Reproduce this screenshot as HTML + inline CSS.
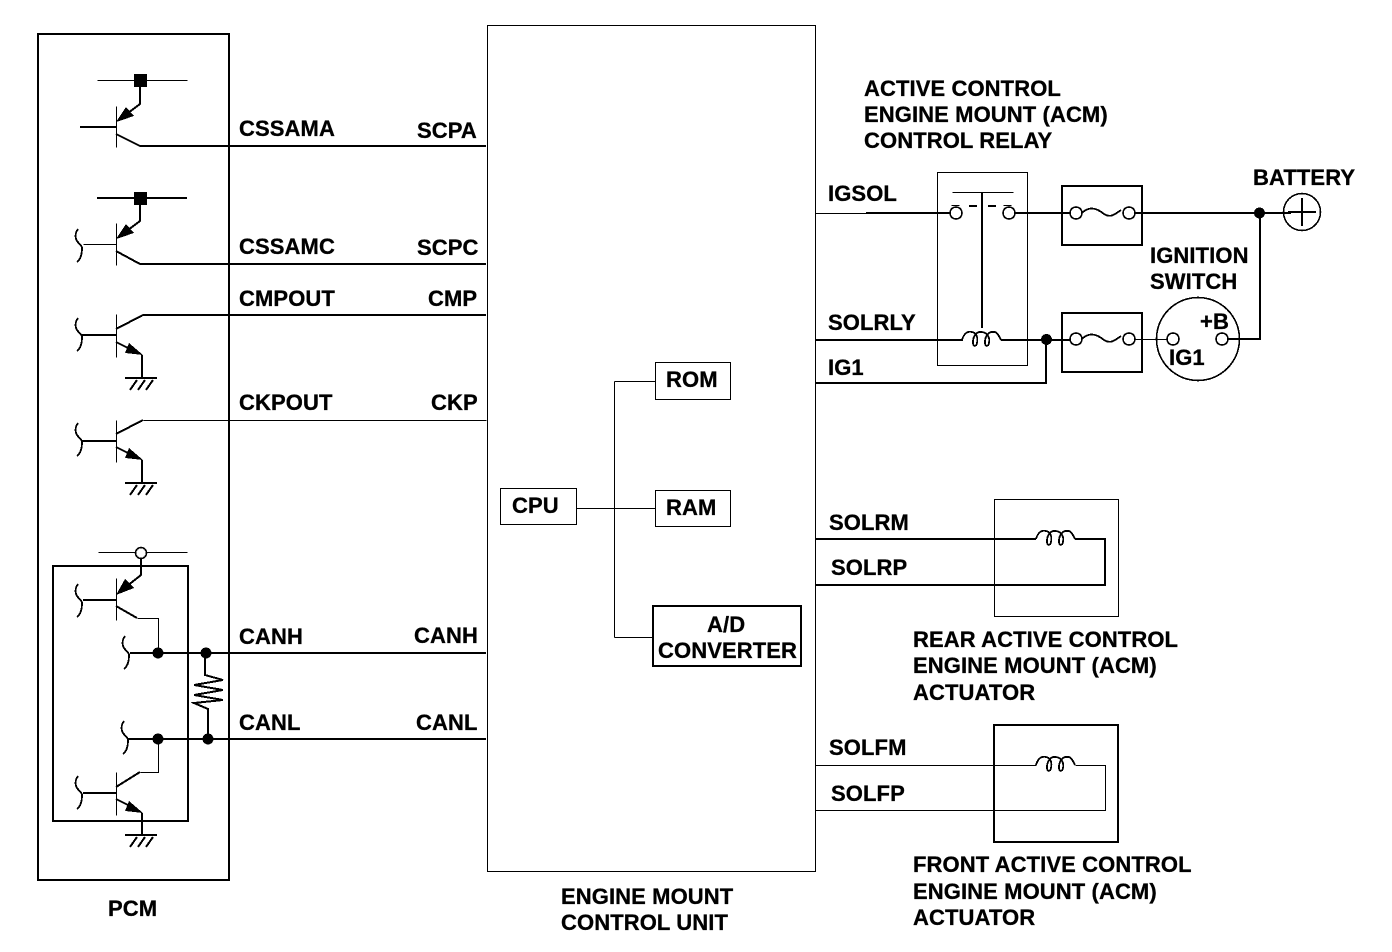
<!DOCTYPE html>
<html><head><meta charset="utf-8"><style>
html,body{margin:0;padding:0;background:#fff}
svg{display:block}
svg *{shape-rendering:crispEdges}
text{font-family:"Liberation Sans",sans-serif;font-weight:bold;font-size:22px;fill:#000;stroke:#000;stroke-width:.3px;letter-spacing:.1px}
.l{fill:none;stroke:#000;stroke-width:2}
.t{fill:none;stroke:#000;stroke-width:1;transform:translate(.5px,.5px)}
</style></head><body>
<svg width="1392" height="952" viewBox="0 0 1392 952" xmlns="http://www.w3.org/2000/svg">
<defs>
<g id="gnd"><path d="M-17 0H15M-5 2L-12 12M3 2L-4 12M11 2L4 12" fill="none" stroke="#000" stroke-width="2"/></g>
<path id="curlyb" d="M2 0C-1 4 -1 9 1 12C3 15 6 16 6 19C6 25 5 30 1 33" fill="none" stroke="#000" stroke-width="1.8"/>
<path id="coil" d="M0 0C2 -7 6 -9 10 -8C15 -7 16 -2 15 3C14 7 11 7 11 2C11 -4 15 -9 20 -8C26 -7 28 -2 27 3C26 7 23 7 23 2C23 -4 27 -9 32 -8C36 -8 37 -3 39 0" fill="none" stroke="#000" stroke-width="1.8"/>
<path id="fuse" d="M0 0C8 -8 16 -4 22 1C28 5 32 2 39 -3" fill="none" stroke="#000" stroke-width="1.8"/>
</defs>

<!-- main boxes -->
<rect class="l" x="38" y="34" width="191" height="846"/>
<rect class="t" x="487" y="25" width="328" height="846"/>
<rect class="l" x="53" y="566" width="135" height="255"/>

<!-- transistor 1 -->
<path class="t" d="M97 80H187"/>
<rect x="134" y="74" width="13" height="13"/>
<path class="l" d="M140 87V104L120 119"/>
<path d="M116 122L126 107L134 116Z"/>
<path class="t" d="M116 106V147"/>
<path class="l" d="M80 127H116M116 134L140 146H486"/>
<!-- transistor 2 -->
<path class="l" d="M97 198H187"/>
<rect x="134" y="192" width="13" height="13"/>
<path class="l" d="M140 205V221L120 236"/>
<path d="M116 239L126 224L134 233Z"/>
<path class="t" d="M116 223V265M83 244H116"/>
<use href="#curlyb" x="76" y="229"/>
<path class="l" d="M116 251L140 264H486"/>
<!-- transistor 3 -->
<path class="t" d="M116 314V357"/>
<path class="l" d="M81 335H116M116 329L143 315H486M116 342L130 349M142 355V378"/>
<path d="M143 355L125 353L129 343Z"/>
<use href="#curlyb" x="76" y="318"/>
<use href="#gnd" x="142" y="378"/>
<!-- transistor 4 -->
<path class="t" d="M116 420V462"/>
<path class="l" d="M81 441H116M116 434L143 420M116 447L130 454M142 460V483"/>
<path class="t" d="M143 420H486"/>
<path d="M143 460L125 458L129 448Z"/>
<use href="#curlyb" x="76" y="423"/>
<use href="#gnd" x="142" y="483"/>
<!-- CAN transistors -->
<path class="t" d="M98 552H187"/>
<circle cx="141" cy="553" r="5.500" fill="#fff" stroke="#000" stroke-width="1.600"/>
<path class="l" d="M141 558V575L122 590"/>
<path d="M116 595L125 579L134 588Z"/>
<path class="t" d="M116 578V620"/>
<path class="l" d="M83 600H116M116 606L137 618"/>
<path class="t" d="M137 618H158V653"/>
<use href="#curlyb" x="76" y="584"/>
<use href="#curlyb" x="123" y="636"/>
<path class="l" d="M130 653H486M128 739H486"/>
<circle cx="158" cy="653" r="5.500"/><circle cx="206" cy="653" r="5.500"/>
<circle cx="158" cy="739" r="5.500"/><circle cx="208" cy="739" r="5.500"/>
<use href="#curlyb" x="122" y="721"/>
<path class="l" d="M205 653V675L223 680L194 685L223 690L194 695L223 700L194 703L208 709V739"/>
<path class="t" d="M158 739V772H140"/>
<path class="l" d="M140 772L116 787"/>
<path class="t" d="M116 772V815"/>
<path class="l" d="M83 793H116M116 799L130 806M142 813V835"/>
<path d="M143 813L125 811L129 801Z"/>
<use href="#curlyb" x="76" y="776"/>
<use href="#gnd" x="142" y="835"/>

<!-- inner boxes -->
<rect class="t" x="500" y="488" width="76" height="36"/>
<rect class="t" x="655" y="362" width="75" height="37"/>
<rect class="t" x="655" y="490" width="75" height="36"/>
<rect class="l" x="653" y="606" width="148" height="60"/>
<path class="t" d="M576 508H655M614 381V637M614 381H655M614 637H653"/>

<!-- relay -->
<rect class="t" x="937" y="172" width="90" height="193"/>
<path class="t" d="M815 213H866M952 192H1013"/>
<path class="l" d="M866 213H950M1015 213H1070M1135 213H1291M982 192V328M1260 213V339H1228"/>
<path class="t" d="M951 205H959M1003 205H1011"/>
<path class="l" d="M969 206H977M988 206H996"/>
<circle cx="956" cy="213" r="6" fill="#fff" stroke="#000" stroke-width="1.600"/>
<circle cx="1009" cy="213" r="6" fill="#fff" stroke="#000" stroke-width="1.600"/>
<rect class="l" x="1062" y="186" width="80" height="59"/>
<rect class="l" x="1062" y="313" width="80" height="59"/>
<use href="#fuse" x="1082" y="213"/>
<use href="#fuse" x="1082" y="339"/>
<circle cx="1076" cy="213" r="6" fill="#fff" stroke="#000" stroke-width="1.600"/>
<circle cx="1129" cy="213" r="6" fill="#fff" stroke="#000" stroke-width="1.600"/>
<circle cx="1076" cy="339" r="6" fill="#fff" stroke="#000" stroke-width="1.600"/>
<circle cx="1129" cy="339" r="6" fill="#fff" stroke="#000" stroke-width="1.600"/>
<circle cx="1259.500" cy="213" r="5.500"/>
<circle cx="1302" cy="212" r="18.500" fill="none" stroke="#000" stroke-width="1.600"/>
<path class="l" d="M1288 212H1316M1302 198V226"/>
<path class="l" d="M815 340H963M1001 340H1070M815 383H1046V340"/>
<use href="#coil" x="962" y="340"/>
<circle cx="1046.500" cy="339.500" r="5.500"/>
<path class="t" d="M1135 339H1167"/>
<circle cx="1198" cy="339" r="41.500" fill="none" stroke="#000" stroke-width="1.600"/>
<circle cx="1173" cy="339" r="6" fill="#fff" stroke="#000" stroke-width="1.600"/>
<circle cx="1222" cy="339" r="6" fill="#fff" stroke="#000" stroke-width="1.600"/>

<!-- rear actuator -->
<rect class="t" x="994" y="499" width="124" height="117"/>
<path class="l" d="M815 539H1036M1075 539H1105V585H815"/>
<use href="#coil" x="1036" y="539"/>
<!-- front actuator -->
<rect class="l" x="994" y="725" width="124" height="117"/>
<path class="t" d="M815 765H1036M1075 765H1105V810H815"/>
<use href="#coil" x="1036" y="765"/>

<!-- labels -->
<text x="239" y="136">CSSAMA</text>
<text x="417" y="138">SCPA</text>
<text x="239" y="254">CSSAMC</text>
<text x="417" y="255">SCPC</text>
<text x="239" y="306">CMPOUT</text>
<text x="428" y="306">CMP</text>
<text x="239" y="410">CKPOUT</text>
<text x="431" y="410">CKP</text>
<text x="239" y="644">CANH</text>
<text x="414" y="643">CANH</text>
<text x="239" y="730">CANL</text>
<text x="416" y="730">CANL</text>
<text x="108" y="916">PCM</text>
<text x="561" y="904">ENGINE MOUNT</text>
<text x="561" y="930">CONTROL UNIT</text>
<text x="512" y="513">CPU</text>
<text x="666" y="387">ROM</text>
<text x="666" y="515">RAM</text>
<text x="707" y="632">A/D</text>
<text x="658" y="658">CONVERTER</text>
<text x="864" y="96">ACTIVE CONTROL</text>
<text x="864" y="122">ENGINE MOUNT (ACM)</text>
<text x="864" y="148">CONTROL RELAY</text>
<text x="828" y="201">IGSOL</text>
<text x="828" y="330">SOLRLY</text>
<text x="828" y="375">IG1</text>
<text x="1253" y="185">BATTERY</text>
<text x="1150" y="263">IGNITION</text>
<text x="1150" y="289">SWITCH</text>
<text x="1200" y="329">+B</text>
<text x="1169" y="365">IG1</text>
<text x="829" y="530">SOLRM</text>
<text x="831" y="575">SOLRP</text>
<text x="913" y="647">REAR ACTIVE CONTROL</text>
<text x="913" y="673">ENGINE MOUNT (ACM)</text>
<text x="913" y="700">ACTUATOR</text>
<text x="829" y="755">SOLFM</text>
<text x="831" y="801">SOLFP</text>
<text x="913" y="872">FRONT ACTIVE CONTROL</text>
<text x="913" y="899">ENGINE MOUNT (ACM)</text>
<text x="913" y="925">ACTUATOR</text>
</svg>
</body></html>
